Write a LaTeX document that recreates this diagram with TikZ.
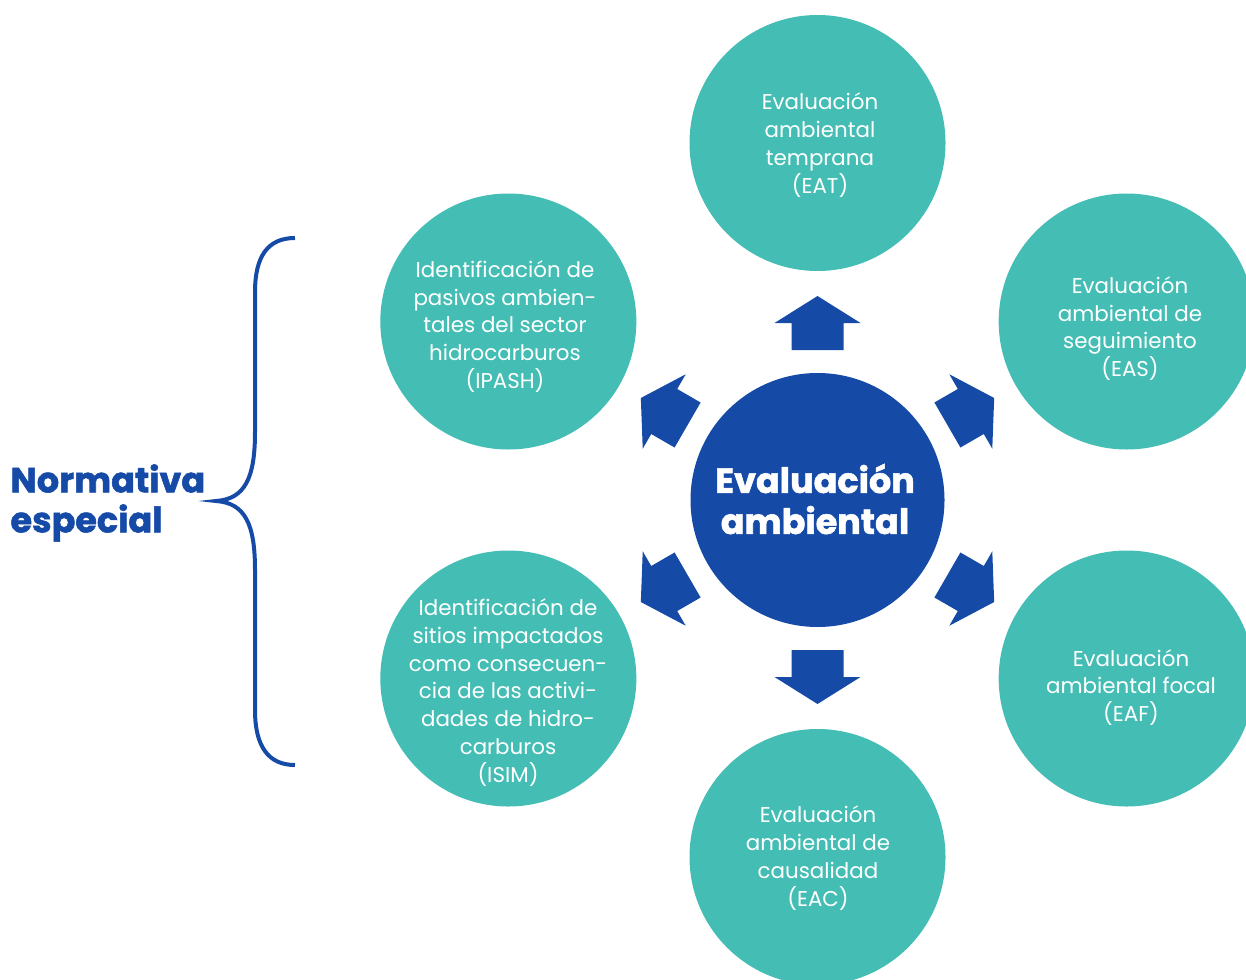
\documentclass[tikz,border=0pt]{standalone}
\usepackage{fontspec}
\setmainfont{Poppins}
\newfontfamily\heavyfont{Poppins}[BoldFeatures={FakeBold=1.6}]
\usetikzlibrary{calc}
\definecolor{tealc}{HTML}{44BEB4}
\definecolor{bluec}{HTML}{164AA7}
\tikzset{
  subcircle/.style={circle, fill=tealc, minimum size=256pt, inner sep=0pt},
  subtext/.style={text=white, align=center, font=\fontsize{21.4}{27.8}\selectfont},
  maincircle/.style={circle, fill=bluec, minimum size=254pt, inner sep=0pt},
  maintext/.style={text=white, align=center, font=\heavyfont\bfseries\fontsize{35}{41}\selectfont},
  outarrow/.style={fill=bluec},
  bracket/.style={draw=bluec, line width=4pt},
}
\begin{document}
\begin{tikzpicture}[x=1pt, y=-1pt]
  \useasboundingbox (0,0) rectangle (1246,979);
  \coordinate (C) at (817.5,500);

  % central circle
  \node[maincircle] (main) at (C) {};
  \node[maintext] (maintxt) at (815,499) {Evaluación\\ambiental};

  % surrounding circles
  \node[subcircle] (eat)   at ($(C)+(-90:357)$) {};
  \node[subcircle] (eas)   at ($(C)+(-30:357)$) {};
  \node[subcircle] (eaf)   at ($(C)+(30:357)$) {};
  \node[subcircle] (eac)   at ($(C)+(90:357)$) {};
  \node[subcircle] (isim)  at ($(C)+(150:357)$) {};
  \node[subcircle] (ipash) at ($(C)+(210:357)$) {};

  \node[subtext] (eattxt)   at (820,145) {Evaluación\\ambiental\\temprana\\(EAT)};
  \node[subtext] (eastxt)   at (1130,328.5) {Evaluación\\ambiental de\\seguimiento\\(EAS)};
  \node[subtext] (eaftxt)   at (1131,687.5) {Evaluación\\ambiental focal\\(EAF)};
  \node[subtext] (eactxt)   at (818,858) {Evaluación\\ambiental de\\causalidad\\(EAC)};
  \node[subtext] (ipashtxt) at (505,326.5) {Identificación de\\pasivos ambien-\\tales del sector\\hidrocarburos\\(IPASH)};
  \node[subtext] (isimtxt)  at (508,692.5) {Identificación de\\sitios impactados\\como consecuen-\\cia de las activi-\\dades de hidro-\\carburos\\(ISIM)};

  % block arrows pointing outward from the centre
  \foreach \a in {-90,-30,30,90,150,210} {
    \fill[outarrow]
      ($(C)+(\a:150)+(\a+90:26)$) --
      ($(C)+(\a:177)+(\a+90:26)$) --
      ($(C)+(\a:177)+(\a+90:43)$) --
      ($(C)+(\a:204)$) --
      ($(C)+(\a:177)+(\a-90:43)$) --
      ($(C)+(\a:177)+(\a-90:26)$) --
      ($(C)+(\a:150)+(\a-90:26)$) -- cycle;
  }

  % curly bracket and its label
  \coordinate (btop) at (295,238);
  \coordinate (bmid) at (216,501);
  \coordinate (bbot) at (295,765);
  \draw[bracket] (btop) .. controls (268,238) and (255,256) .. (255,292)
    -- (255,432) .. controls (255,478) and (245,499) .. (bmid)
    .. controls (245,503) and (255,524) .. (255,570)
    -- (255,710) .. controls (255,746) and (268,765) .. (bbot);
  \node[anchor=west, text=bluec, align=left, font=\heavyfont\bfseries\fontsize{35}{40}\selectfont] (norm) at (7,503) {Normativa\\especial};
\end{tikzpicture}
\end{document}
